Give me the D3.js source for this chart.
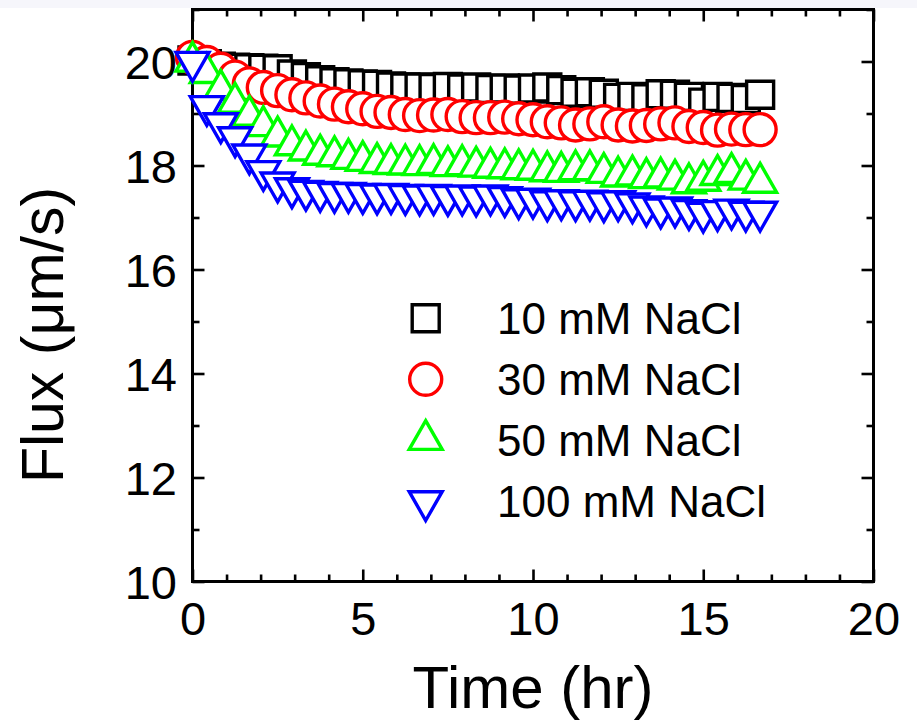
<!DOCTYPE html>
<html>
<head>
<meta charset="utf-8">
<script src="https://cdn.jsdelivr.net/npm/d3@7"></script>
<style>
  html, body { margin: 0; padding: 0; background: #fff; }
  svg { display: block; }
  text { font-family: "Liberation Sans", Arial, sans-serif; fill: #000; }
</style>
</head>
<body>
<svg id="chart" width="917" height="723"></svg>
<script>
// Sampling times (hr), every 25 minutes
const timeHr = [0, 0.42, 0.83, 1.25, 1.67, 2.08, 2.5, 2.92, 3.33, 3.75, 4.17, 4.58, 5, 5.42, 5.83,
  6.25, 6.67, 7.08, 7.5, 7.92, 8.33, 8.75, 9.17, 9.58, 10, 10.42, 10.83, 11.25, 11.67, 12.08,
  12.5, 12.92, 13.33, 13.75, 14.17, 14.58, 15, 15.42, 15.83, 16.25, 16.67];

// Flux (µm/s) for each NaCl concentration
const flux10mM = [20.02, 19.95, 19.90, 19.88, 19.87, 19.86, 19.85, 19.75, 19.70, 19.64, 19.60,
  19.58, 19.56, 19.55, 19.52, 19.50, 19.50, 19.49, 19.51, 19.48, 19.50, 19.47, 19.48, 19.46,
  19.48, 19.50, 19.45, 19.40, 19.41, 19.38, 19.30, 19.32, 19.29, 19.37, 19.36, 19.32, 19.21,
  19.32, 19.30, 19.28, 19.36];
const flux30mM = [20.08, 19.98, 19.85, 19.70, 19.57, 19.50, 19.44, 19.36, 19.30, 19.24, 19.18,
  19.13, 19.09, 19.04, 19.02, 18.98, 18.96, 18.97, 18.98, 18.94, 18.92, 18.92, 18.93, 18.90,
  18.88, 18.84, 18.82, 18.78, 18.80, 18.84, 18.78, 18.76, 18.77, 18.80, 18.82, 18.75, 18.73,
  18.68, 18.70, 18.69, 18.69];
const flux50mM = [20.00, 19.78, 19.46, 19.21, 18.96, 18.76, 18.56, 18.39, 18.29, 18.21, 18.18,
  18.13, 18.09, 18.05, 18.03, 18.02, 18.01, 18.03, 17.99, 18.01, 17.98, 17.96, 17.95, 17.93,
  17.92, 17.89, 17.88, 17.91, 17.91, 17.86, 17.79, 17.81, 17.76, 17.77, 17.73, 17.66, 17.71,
  17.82, 17.86, 17.73, 17.67];
const flux100mM = [19.99, 19.14, 18.81, 18.54, 18.21, 17.89, 17.67, 17.56, 17.51, 17.49, 17.47,
  17.47, 17.45, 17.44, 17.45, 17.43, 17.42, 17.43, 17.41, 17.42, 17.40, 17.42, 17.39, 17.35,
  17.36, 17.31, 17.33, 17.31, 17.32, 17.29, 17.31, 17.27, 17.21, 17.17, 17.19, 17.14, 17.09,
  17.12, 17.15, 17.11, 17.11];

const seriesNames = ["10 mM NaCl", "30 mM NaCl", "50 mM NaCl", "100 mM NaCl"];
const seriesValues = [flux10mM, flux30mM, flux50mM, flux100mM];

const xMajorTicks = [0, 5, 10, 15, 20];
const yMajorTicks = [10, 12, 14, 16, 18, 20];

(function draw() {
  const svg = d3.select("#chart");
  const W = 917;
  const plotLeft = 192.5, plotRight = 873.5, plotTop = 9.5, plotBottom = 581.5;

  svg.append("rect").attr("x", 0).attr("y", 0).attr("width", W).attr("height", 8)
    .attr("fill", "#f6f6fb");

  const x = d3.scaleLinear().domain([0, 20]).range([plotLeft, plotRight]);
  const y = d3.scaleLinear().domain([10, 21]).range([plotBottom, plotTop]);

  const font = '"Liberation Sans", Arial, sans-serif';

  // ---- axes (ticks point inward) ----
  const xMinor = d3.range(0, 21).filter(v => v % 5 !== 0);
  const yMinor = d3.range(10, 22).filter(v => v % 2 !== 0);

  function styleAxis(g) {
    g.select(".domain").remove();
    g.selectAll(".tick line").attr("stroke", "#000").attr("stroke-width", 2.6);
  }

  svg.append("g").attr("transform", `translate(0,${plotBottom})`)
    .call(d3.axisBottom(x).tickValues(xMajorTicks).tickSizeInner(-12).tickSizeOuter(0).tickPadding(20))
    .call(styleAxis)
    .call(g => g.selectAll(".tick text").attr("font-size", 47).attr("font-family", font).attr("fill", "#000"));
  svg.append("g").attr("transform", `translate(0,${plotBottom})`)
    .call(d3.axisBottom(x).tickValues(xMinor).tickSizeInner(-7).tickSizeOuter(0).tickFormat(""))
    .call(styleAxis);
  svg.append("g").attr("transform", `translate(0,${plotTop})`)
    .call(d3.axisTop(x).tickValues(xMajorTicks).tickSizeInner(-12).tickSizeOuter(0).tickFormat(""))
    .call(styleAxis);
  svg.append("g").attr("transform", `translate(0,${plotTop})`)
    .call(d3.axisTop(x).tickValues(xMinor).tickSizeInner(-7).tickSizeOuter(0).tickFormat(""))
    .call(styleAxis);

  svg.append("g").attr("transform", `translate(${plotLeft},0)`)
    .call(d3.axisLeft(y).tickValues(yMajorTicks).tickSizeInner(-12).tickSizeOuter(0).tickPadding(15.5))
    .call(styleAxis)
    .call(g => g.selectAll(".tick text").attr("font-size", 47).attr("font-family", font)
      .attr("fill", "#000").attr("dy", "0.357em"));
  svg.append("g").attr("transform", `translate(${plotLeft},0)`)
    .call(d3.axisLeft(y).tickValues(yMinor).tickSizeInner(-7).tickSizeOuter(0).tickFormat(""))
    .call(styleAxis);
  svg.append("g").attr("transform", `translate(${plotRight},0)`)
    .call(d3.axisRight(y).tickValues(yMajorTicks).tickSizeInner(-12).tickSizeOuter(0).tickFormat(""))
    .call(styleAxis);
  svg.append("g").attr("transform", `translate(${plotRight},0)`)
    .call(d3.axisRight(y).tickValues(yMinor).tickSizeInner(-7).tickSizeOuter(0).tickFormat(""))
    .call(styleAxis);

  svg.append("rect")
    .attr("x", plotLeft).attr("y", plotTop)
    .attr("width", plotRight - plotLeft).attr("height", plotBottom - plotTop)
    .attr("fill", "none").attr("stroke", "#000").attr("stroke-width", 3);

  // ---- axis titles ----
  svg.append("text")
    .attr("x", 533).attr("y", 708)
    .attr("text-anchor", "middle").attr("font-size", 60)
    .text("Time (hr)");
  svg.append("text")
    .attr("transform", "translate(63,335) rotate(-90)")
    .attr("text-anchor", "middle").attr("font-size", 59)
    .text("Flux (μm/s)");

  // ---- marker shapes (size argument = half-extent) ----
  const squareType = { draw(ctx, s) { ctx.rect(-s, -s, 2 * s, 2 * s); } };
  const circleType = { draw(ctx, r) { ctx.moveTo(r, 0); ctx.arc(0, 0, r, 0, 2 * Math.PI); } };
  // triangles are anchored at their centroid
  const triUpType = { draw(ctx, s) {
    const w = s * 2.06, h = s * 1.8;
    ctx.moveTo(0, -2 * h / 3); ctx.lineTo(w / 2, h / 3); ctx.lineTo(-w / 2, h / 3); ctx.closePath();
  } };
  const triDownType = { draw(ctx, s) {
    const w = s * 2.06, h = s * 1.8;
    ctx.moveTo(0, 2 * h / 3); ctx.lineTo(w / 2, -h / 3); ctx.lineTo(-w / 2, -h / 3); ctx.closePath();
  } };

  const markerTypes = [squareType, circleType, triUpType, triDownType];
  const markerSizes = [13.5, 16, 16, 16];
  const colors = ["#000000", "#ff0000", "#00ff00", "#0000ff"];
  const markerStroke = 3.4;

  // ---- data markers ----
  seriesValues.forEach((vals, k) => {
    const sym = d3.symbol().type(markerTypes[k]).size(markerSizes[k]);
    svg.append("g").selectAll("path")
      .data(vals.map((v, i) => ({ t: timeHr[i], v })))
      .join("path")
      .attr("transform", d => `translate(${x(d.t)},${y(d.v)})`)
      .attr("d", sym)
      .attr("fill", "#fff")
      .attr("stroke", colors[k])
      .attr("stroke-width", markerStroke)
      .attr("stroke-linejoin", "miter");
  });

  // ---- legend ----
  const legendSymX = 425.7, legendTextX = 497;
  const legendBase = [334, 395, 455.5, 517];
  const legend = svg.append("g");
  seriesNames.forEach((name, k) => {
    const cy = legendBase[k] - 15.7;
    legend.append("path")
      .attr("transform", `translate(${legendSymX},${cy})`)
      .attr("d", d3.symbol().type(markerTypes[k]).size(markerSizes[k]))
      .attr("fill", "#fff").attr("stroke", colors[k]).attr("stroke-width", markerStroke);
    legend.append("text")
      .attr("x", legendTextX).attr("y", legendBase[k])
      .attr("font-size", 44)
      .text(name);
  });
})();
</script>
</body>
</html>
